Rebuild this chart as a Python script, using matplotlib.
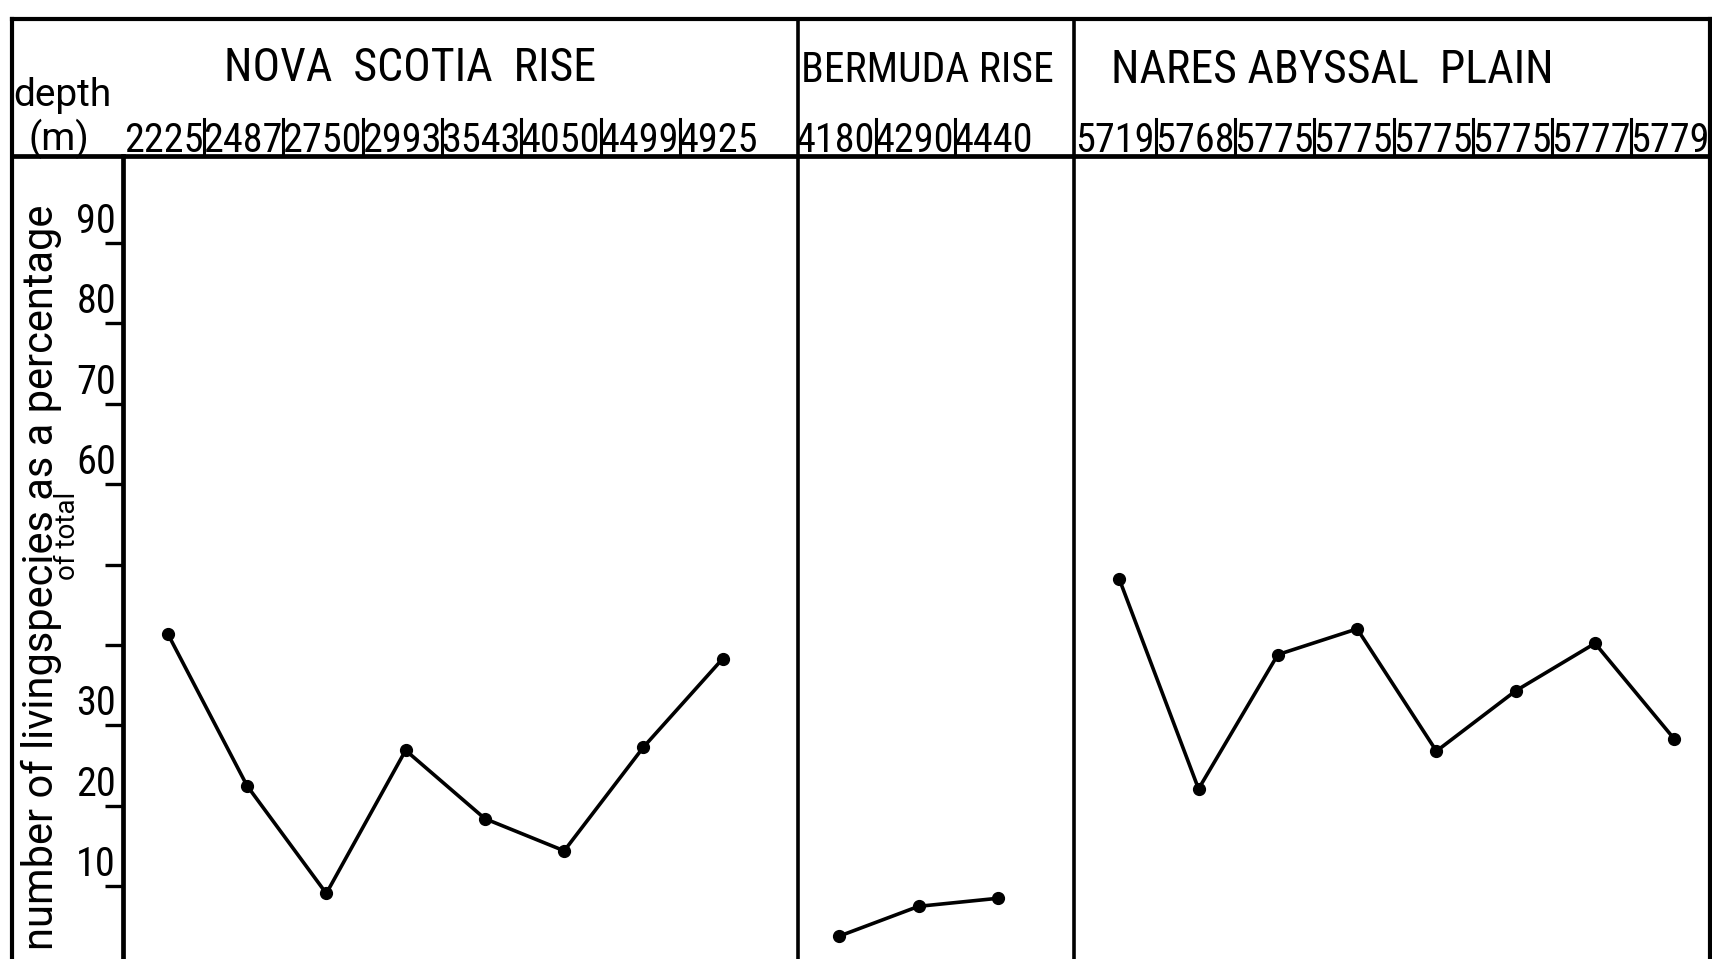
import matplotlib
matplotlib.use("Agg")
import matplotlib.pyplot as plt
from matplotlib import transforms
from matplotlib.lines import Line2D

plt.rcParams['font.family'] = ['Roboto Condensed', 'Liberation Sans Narrow', 'DejaVu Sans']
plt.rcParams['font.stretch'] = 'condensed'

# ---- data -------------------------------------------------------------
groups = ["NOVA  SCOTIA  RISE", "BERMUDA RISE", "NARES ABYSSAL  PLAIN"]

nova_depths = ["2225", "2487", "2750", "2993", "3543", "4050", "4499", "4925"]
nova_values = [41.4, 22.5, 9.1, 26.9, 18.4, 14.4, 27.3, 38.3]

bermuda_depths = ["4180", "4290", "4440"]
bermuda_values = [3.8, 7.5, 8.5]

nares_depths = ["5719", "5768", "5775", "5775", "5775", "5775", "5777", "5779"]
nares_values = [48.2, 22.1, 38.8, 42.0, 26.8, 34.3, 40.2, 28.3]

ytick_values = [10, 20, 30, 40, 50, 60, 70, 80, 90]
ytick_labels = ["10", "20", "30", "", "", "60", "70", "80", "90"]

ylabel_main = "number of livingspecies as a percentage"
ylabel_sub = "of total"
# -----------------------------------------------------------------------

W, H = 1712, 959
fig = plt.figure(figsize=(W / 100, H / 100), dpi=100)

# station positions: one unit per station, panels separated by gaps
nova_x = [i for i in range(len(nova_depths))]
bermuda_x = [8.47 + i for i in range(len(bermuda_depths))]
nares_x = [12.0 + i for i in range(len(nares_depths))]
divider_x = [7.95, 11.43]

# main plotting area
ax_left, ax_right, ax_top = 123, 1710, 156
ax = fig.add_axes([ax_left / W, 0.0, (ax_right - ax_left) / W, 1 - ax_top / H])
ax.set_xlim(-0.564, 19.45)
ax.set_ylim(0.95, 100.8)
ax.set_facecolor("none")
for side in ("top", "right", "bottom"):
    ax.spines[side].set_visible(False)
ax.spines["left"].set_linewidth(3.4)
ax.set_xticks([])
ax.set_yticks(ytick_values)
ax.set_yticklabels([])
ax.tick_params(axis="y", direction="out", length=13, width=2.4, color="black")

line_kw = dict(color="black", linewidth=2.6, marker="o", markersize=8.5,
               markerfacecolor="black", markeredgecolor="black", solid_joinstyle="round")
ax.plot(nova_x, nova_values, **line_kw)
ax.plot(bermuda_x, bermuda_values, **line_kw)
ax.plot(nares_x, nares_values, **line_kw)

# y tick labels sit just above their tick marks
lab_tr = transforms.offset_copy(ax.get_yaxis_transform(), fig=fig, x=-7, y=2, units="dots")
for v, s in zip(ytick_values, ytick_labels):
    if s:
        ax.text(0, v, s, transform=lab_tr, ha="right", va="bottom", fontsize=29)

# overlay in pixel coordinates for the frame and header
ov = fig.add_axes([0, 0, 1, 1], zorder=-1)
ov.set_xlim(0, W)
ov.set_ylim(H, 0)
ov.axis("off")
ov.patch.set_alpha(0)

frame_top, frame_left = 19, 12
ov.plot([frame_left, W - 2], [frame_top, frame_top], color="black", lw=3.0)
ov.plot([frame_left, W - 2], [ax_top, ax_top], color="black", lw=3.4)
ov.plot([frame_left, frame_left], [frame_top, H], color="black", lw=3.0)
ov.plot([W - 2, W - 2], [frame_top, H], color="black", lw=3.0)

# panel dividers spanning header and plot
mix = transforms.blended_transform_factory(ax.transData, ov.transData)
for xd in divider_x:
    fig.add_artist(Line2D([xd, xd], [frame_top, H], transform=mix, color="black", lw=2.6))

# group titles
title_specs = [(410, 68, groups[0], 33), (927, 70, groups[1], 30), (1332, 70, groups[2], 33)]
for xt, yt, s, fs in title_specs:
    ov.text(xt, yt, s, ha="center", va="center", fontsize=fs)

# depth row
all_x = [nova_x, bermuda_x, nares_x]
all_d = [nova_depths, bermuda_depths, nares_depths]
for xs, ds in zip(all_x, all_d):
    for j, (xv, d) in enumerate(zip(xs, ds)):
        ov.text(xv - 0.05, 152, d, transform=mix, ha="center", va="baseline", fontsize=29)
        if j > 0:
            xs_sep = (xs[j - 1] + xv) / 2 - 0.04
            fig.add_artist(Line2D([xs_sep, xs_sep], [119, ax_top], transform=mix,
                                  color="black", lw=2.2))

regular = dict(family=["Roboto", "DejaVu Sans"], fontstretch="normal")
ov.text(13, 106, "depth", ha="left", va="baseline", fontsize=28, **regular)
ov.text(29, 150, "(m)", ha="left", va="baseline", fontsize=28, **regular)

# rotated axis title
ov.text(41, 205, ylabel_main, rotation=90, ha="center", va="top", fontsize=30, **regular)
ov.text(68, 536, ylabel_sub, rotation=90, ha="center", va="center", fontsize=20, **regular)

fig.savefig("out.png", dpi=100, facecolor="white")
